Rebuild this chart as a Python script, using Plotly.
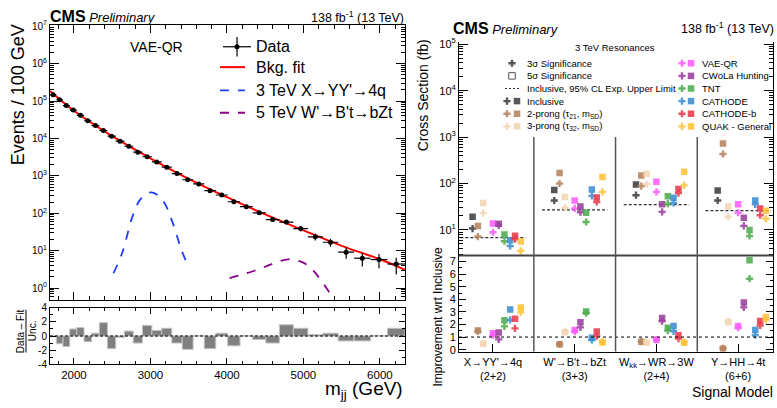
import plotly.graph_objects as go

W, H = 777, 408
FONT = "Liberation Sans"


def fx(p):
    return p / W


def fy(p):
    return 1 - p / H


# ---------------- Left panel data ----------------
bin_edges = [1687, 1770, 1856, 1945, 2037, 2132, 2231, 2332, 2438, 2546, 2659, 2775,
             2895, 3019, 3147, 3279, 3416, 3558, 3704, 3854, 4010, 4171, 4337, 4509,
             4686, 4869, 5058, 5253, 5455, 5663, 5877, 6099, 6328]
data_counts = [146000, 108000, 75500, 57300, 41500, 29700, 22000, 16300, 11500, 8450,
               6170, 4280, 3240, 2350, 1710, 1150, 787, 608, 401, 308,
               203, 150, 103, 68, 58, 39, 23.5, 16.8, 9.1, 6.3, 5.8, 4.4]
pulls = [0.0, -1.1, -1.5, 1.0, 1.2, -0.8, 0.4, 1.9, -1.8, -0.2, 0.7, -1.0, 1.5, 0.8,
         1.1, -1.0, -1.9, 0.03, -1.8, 0.4, -1.4, 0.03, -0.5, -1.0, 1.6, 1.1, 0.2, 0.4,
         -0.7, -0.7, 0.05, 1.1]
fit_mass = [1687, 2000, 2500, 3000, 3500, 4000, 4500, 5000, 5500, 6000, 6328]
fit_vals = [186000, 55000, 11500, 2950, 832, 269, 93, 35, 13.5, 5.9, 3.1]
sig_yy_mass = [2517, 2635, 2766, 2876, 3015, 3159, 3291, 3400, 3496]
sig_yy_vals = [2.5, 9.2, 82.6, 245, 363, 224, 55.6, 11.2, 3.8]
sig_bt_mass = [4034, 4165, 4339, 4500, 4650, 4800, 4950, 5050, 5150, 5250, 5350, 5430]
sig_bt_vals = [1.86, 2.19, 2.82, 3.72, 4.9, 5.89, 5.25, 4.17, 2.63, 1.41, 0.71, 0.38]

# ---------------- Right panel data ----------------
signal_models = ["X→YY'→4q<br>(2+2)", "W'→B't→bZt<br>(3+3)",
                 "W<sub>kk</sub>→WR→3W<br>(2+4)", "Y→HH→4t<br>(6+6)"]
method_names = ["Inclusive", "2-prong (τ<sub>21</sub>, m<sub>SD</sub>)",
                "3-prong (τ<sub>32</sub>, m<sub>SD</sub>)", "VAE-QR", "CWoLa Hunting",
                "TNT", "CATHODE", "CATHODE-b", "QUAK - General"]
inclusive_limit = [6.8, 27, 35, 26]

xs3_inclusive = [10.7, 43, 56, 43]
xs3_two_prong = [7.2, 100, 88, 432]
xs3_three_prong = [23, 30, 97, 19.2]
xs3_vae_qr = [8.9, 29, 66, 23.4]
xs3_cwola = [12.5, 24, 24.5, 12.2]
xs3_tnt = [5.7, 14.8, 36.7, 7.4]
xs3_cathode = [4.5, 54, 38, 35.5]
xs3_cathode_b = [6.3, 40, 62, 20.7]
xs3_quak = [3.55, 66, 91, 17.4]

xs5_inclusive = [19.2, 72, 95, 71]
xs5_two_prong = [12.2, 168, 148, 725]
xs5_three_prong = [38, 51, 162, 32]
xs5_vae_qr = [13.7, 43, 109, 35.5]
xs5_cwola = [13.5, 32, 35.5, 18.2]
xs5_tnt = [8.0, 23.4, 53, 9.9]
xs5_cathode = [6.0, 74, 49, 43]
xs5_cathode_b = [7.5, 50, 76, 29]
xs5_quak = [5.6, 138, 180, 26]

imp3_two_prong = [1.45, 0.43, 0.64, 0.1]
imp3_three_prong = [0.47, 1.43, 0.58, 2.24]
imp3_vae_qr = [1.15, 1.44, 0.8, 1.74]
imp3_cwola = [0.82, 1.77, 2.26, 3.36]
imp3_tnt = [1.85, 2.9, 1.51, 5.64]
imp3_cathode = [2.36, 0.77, 1.46, 1.15]
imp3_cathode_b = [1.69, 1.08, 0.88, 1.92]
imp3_quak = [2.97, 0.64, 0.6, 2.36]

imp5_two_prong = [1.52, 0.42, 0.62, 0.08]
imp5_three_prong = [0.46, 1.38, 0.54, 2.18]
imp5_vae_qr = [1.31, 1.56, 0.79, 1.87]
imp5_cwola = [1.36, 2.18, 2.51, 3.74]
imp5_tnt = [2.33, 3.03, 1.74, 7.1]
imp5_cathode = [3.2, 0.95, 1.87, 1.56]
imp5_cathode_b = [2.46, 1.44, 1.15, 2.28]
imp5_quak = [3.36, 0.56, 0.54, 2.59]

# styles / layout positions (not data)
method_colors = ["#3f3f3f", "#b5835d", "#f2d5b3", "#ff5cff", "#9b409d", "#4fac4f",
                 "#3d8ed0", "#e83b4f", "#ffc23a"]
method_offsets = [-0.25, -0.185, -0.12, 0.0, 0.07, 0.14, 0.21, 0.27, 0.34]

xs3_all = [xs3_inclusive, xs3_two_prong, xs3_three_prong, xs3_vae_qr, xs3_cwola,
           xs3_tnt, xs3_cathode, xs3_cathode_b, xs3_quak]
xs5_all = [xs5_inclusive, xs5_two_prong, xs5_three_prong, xs5_vae_qr, xs5_cwola,
           xs5_tnt, xs5_cathode, xs5_cathode_b, xs5_quak]
imp3_all = [None, imp3_two_prong, imp3_three_prong, imp3_vae_qr, imp3_cwola,
            imp3_tnt, imp3_cathode, imp3_cathode_b, imp3_quak]
imp5_all = [None, imp5_two_prong, imp5_three_prong, imp5_vae_qr, imp5_cwola,
            imp5_tnt, imp5_cathode, imp5_cathode_b, imp5_quak]

MS_SQ = 6.5
MS_CR = 6
SHORT_DASH = "3px,2px"

fig = go.Figure()

# ---------------- Left panel traces ----------------
centers = [(a + b) / 2 for a, b in zip(bin_edges[:-1], bin_edges[1:])]
halfw = [(b - a) / 2 for a, b in zip(bin_edges[:-1], bin_edges[1:])]
errs = [v ** 0.5 for v in data_counts]

fig.add_trace(go.Scatter(x=fit_mass, y=fit_vals, mode="lines",
                         line=dict(color="#ff0000", width=2, shape="spline"),
                         xaxis="x", yaxis="y"))
fig.add_trace(go.Scatter(x=sig_yy_mass, y=sig_yy_vals, mode="lines",
                         line=dict(color="#1f3cff", width=1.8, dash="dash", shape="spline"),
                         xaxis="x", yaxis="y"))
fig.add_trace(go.Scatter(x=sig_bt_mass, y=sig_bt_vals, mode="lines",
                         line=dict(color="#8b008b", width=1.8, dash="dash", shape="spline"),
                         xaxis="x", yaxis="y"))
fig.add_trace(go.Scatter(x=centers, y=data_counts, mode="markers",
                         marker=dict(color="black", size=5),
                         error_x=dict(type="data", array=halfw, color="black", thickness=1.2, width=0),
                         error_y=dict(type="data", array=errs, color="black", thickness=1.2, width=0),
                         xaxis="x", yaxis="y"))
fig.add_trace(go.Bar(x=centers, y=pulls, width=[2 * h for h in halfw],
                     marker=dict(color="#808080", line=dict(color="#c4c4c4", width=1)),
                     xaxis="x2", yaxis="y2"))

# ---------------- Right panel traces ----------------
lx, ly = [], []
for i, lim in enumerate(inclusive_limit):
    lx += [i - 0.4, i + 0.4, None]
    ly += [lim, lim, None]
fig.add_trace(go.Scatter(x=lx, y=ly, mode="lines",
                         line=dict(color="#333333", width=1.3, dash=SHORT_DASH),
                         xaxis="x3", yaxis="y3"))

for k in range(len(method_names)):
    xs = [i + method_offsets[k] for i in range(len(signal_models))]
    col = method_colors[k]
    fig.add_trace(go.Scatter(x=xs, y=xs5_all[k], mode="markers",
                             marker=dict(symbol="square", size=MS_SQ, color=col, opacity=0.88),
                             xaxis="x3", yaxis="y3"))
    fig.add_trace(go.Scatter(x=xs, y=xs3_all[k], mode="markers",
                             marker=dict(symbol="cross", size=MS_CR, color=col, opacity=0.88),
                             xaxis="x3", yaxis="y3"))
    if imp5_all[k] is not None:
        fig.add_trace(go.Scatter(x=xs, y=imp5_all[k], mode="markers",
                                 marker=dict(symbol="square", size=MS_SQ, color=col, opacity=0.88),
                                 xaxis="x4", yaxis="y4"))
        fig.add_trace(go.Scatter(x=xs, y=imp3_all[k], mode="markers",
                                 marker=dict(symbol="cross", size=MS_CR, color=col, opacity=0.88),
                                 xaxis="x4", yaxis="y4"))

# ---------------- Legend glyphs (overlay pixel axis) ----------------
ov = dict(xaxis="x5", yaxis="y5")
fig.add_trace(go.Scatter(x=[237], y=[42], mode="markers", marker=dict(color="black", size=5),
                         error_x=dict(type="constant", value=14, color="black", thickness=1.2, width=0),
                         error_y=dict(type="constant", value=10, color="black", thickness=1.2, width=0),
                         **ov))
fig.add_trace(go.Scatter(x=[220, 245], y=[63, 63], mode="lines",
                         line=dict(color="#ff0000", width=2), **ov))
fig.add_trace(go.Scatter(x=[220, 245], y=[87, 87], mode="lines",
                         line=dict(color="#1f3cff", width=1.8, dash="dash"), **ov))
fig.add_trace(go.Scatter(x=[220, 245], y=[110, 110], mode="lines",
                         line=dict(color="#8b008b", width=1.8, dash="dash"), **ov))

rows_y = [59, 72, 85, 98, 111, 124]
fig.add_trace(go.Scatter(x=[512], y=[rows_y[0]], mode="markers",
                         marker=dict(symbol="cross", size=MS_CR, color="#555555"), **ov))
fig.add_trace(go.Scatter(x=[512], y=[rows_y[1]], mode="markers",
                         marker=dict(symbol="square-open", size=MS_SQ, color="#555555",
                                     line=dict(width=1)), **ov))
fig.add_trace(go.Scatter(x=[505, 520], y=[rows_y[2], rows_y[2]], mode="lines",
                         line=dict(color="#333333", width=1.2, dash="2px,2px"), **ov))
for k in range(len(method_names)):
    if k < 3:
        cx, sx, yy = 507, 517, rows_y[3 + k]
    else:
        cx, sx, yy = 682, 691, rows_y[k - 3]
    fig.add_trace(go.Scatter(x=[cx], y=[yy], mode="markers",
                             marker=dict(symbol="cross", size=MS_CR, color=method_colors[k], opacity=0.88), **ov))
    fig.add_trace(go.Scatter(x=[sx], y=[yy], mode="markers",
                             marker=dict(symbol="square", size=MS_SQ, color=method_colors[k], opacity=0.88), **ov))

# ---------------- Annotations ----------------
ann = []


def text(t, x, y, size, xanchor="left", yanchor="middle", angle=0, color="black"):
    ann.append(dict(text=t, x=fx(x), y=fy(y), xref="paper", yref="paper", showarrow=False,
                    xanchor=xanchor, yanchor=yanchor, textangle=angle,
                    font=dict(family=FONT, size=size, color=color)))


cms = "<span style='font-size:16px'><b>CMS</b></span> <span style='font-size:13px'><i>Preliminary</i></span>"
text(cms, 48, 11, 13)
text("138 fb<sup>-1</sup> (13 TeV)", 406, 11, 12.5, xanchor="right")
text("VAE-QR", 156, 42, 14, xanchor="center")
for t, y in zip(["Data", "Bkg. fit", "3 TeV X→YY'→4q", "5 TeV W'→B't→bZt"], [42, 63, 87, 110]):
    text(t, 254, y, 16)
text("Events / 100 GeV", 18, 92, 18, xanchor="center", yanchor="middle", angle=-90)
text("Data – Fit", 20, 335, 10, xanchor="center", angle=-90)
text("Unc.", 32, 335, 10, xanchor="center", angle=-90)
text("m<sub>jj</sub> (GeV)", 405, 396, 19, xanchor="right")

text(cms, 451, 23, 13)
text("138 fb<sup>-1</sup> (13 TeV)", 776, 23, 12.5, xanchor="right")
text("3 TeV Resonances", 615, 43, 9.5, xanchor="center")
left_legend = ["3σ Significance", "5σ Significance", "Inclusive, 95% CL Exp. Upper Limit",
               method_names[0], method_names[1], method_names[2]]
for t, y in zip(left_legend, rows_y):
    text(t, 525, y, 9.5)
for t, y in zip(method_names[3:], rows_y):
    text(t, 700, y, 9.5)
text("Cross Section (fb)", 423, 92, 14, xanchor="center", angle=-90)
text("Improvement wrt Inclusive", 438, 320, 12, xanchor="center", angle=-90)
text("Signal Model", 775, 398, 14, xanchor="right")

# ---------------- Shapes ----------------
shapes = [
    dict(type="line", xref="x2", yref="y2", x0=bin_edges[0], x1=bin_edges[-1], y0=0, y1=0,
         line=dict(color="black", width=1, dash=SHORT_DASH)),
    dict(type="line", xref="paper", yref="paper", x0=fx(26), x1=fx(26), y0=fy(357), y1=fy(313),
         line=dict(color="black", width=1)),
    dict(type="line", xref="paper", yref="paper", x0=fx(459), x1=fx(773), y0=fy(257), y1=fy(257),
         line=dict(color="#444444", width=2)),
    dict(type="line", xref="x4", yref="y4", x0=-0.416, x1=3.427, y0=1, y1=1,
         line=dict(color="black", width=1, dash="dot")),
]
for sep in [0.5, 1.5, 2.5]:
    shapes.append(dict(type="line", xref="x3", yref="paper", x0=sep, x1=sep,
                       y0=fy(356), y1=fy(135), line=dict(color="#555555", width=1.5)))

# ---------------- Axes ----------------
tf = dict(family=FONT, size=10, color="black")
base = dict(showgrid=False, zeroline=False, showline=True, linecolor="black", linewidth=1,
            ticks="inside", tickcolor="black", mirror="allticks", tickfont=tf)

main_minor = [k * 10 ** d for d in range(-1, 7) for k in range(2, 10)]
right_minor = [k * 10 ** d for d in range(0, 5) for k in range(2, 10)]
mass_minor = [m for m in range(1800, 6400, 200) if m % 1000 != 0]

layout_axes = dict(
    xaxis=dict(base, domain=[fx(50), fx(405)], range=[bin_edges[0], bin_edges[-1]], anchor="y",
               tickvals=[2000, 3000, 4000, 5000, 6000], showticklabels=False, ticklen=8,
               minor=dict(tickvals=mass_minor, ticklen=4, ticks="inside", tickcolor="black")),
    yaxis=dict(base, type="log", domain=[fy(303), fy(20)], range=[-0.32, 7.02], anchor="x",
               tickvals=[10 ** p for p in range(0, 8)],
               ticktext=["10<sup>%d</sup>" % p for p in range(0, 8)], ticklen=9,
               minor=dict(tickvals=main_minor, ticklen=4, ticks="inside", tickcolor="black")),
    xaxis2=dict(base, domain=[fx(50), fx(405)], range=[bin_edges[0], bin_edges[-1]], anchor="y2",
                tickvals=[2000, 3000, 4000, 5000, 6000], ticktext=["2000", "3000", "4000", "5000", "6000"],
                ticklen=6, tickfont=dict(family=FONT, size=11.5, color="black"),
                minor=dict(tickvals=mass_minor, ticklen=3, ticks="inside", tickcolor="black")),
    yaxis2=dict(base, domain=[fy(369), fy(311)], range=[-4, 4], anchor="x2",
                tickvals=[-4, -2, 0, 2, 4], ticktext=["-4", "-2", "0", "2", "4"], ticklen=6,
                minor=dict(tickvals=[-3, -1, 1, 3], ticklen=3, ticks="inside", tickcolor="black")),
    xaxis3=dict(domain=[fx(459), fx(773)], range=[-0.416, 3.427], anchor="y3", showgrid=False,
                zeroline=False, showline=False, showticklabels=False, ticks=""),
    yaxis3=dict(base, type="log", domain=[fy(257), fy(37)], range=[0.45, 5.05], anchor="x3",
                tickvals=[10 ** p for p in range(1, 6)],
                ticktext=["10<sup>%d</sup>" % p for p in range(1, 6)], ticklen=9,
                tickfont=dict(family=FONT, size=11, color="black"),
                minor=dict(tickvals=right_minor, ticklen=4, ticks="inside", tickcolor="black")),
    xaxis4=dict(showgrid=False, zeroline=False, showline=True, linecolor="black", linewidth=1,
                domain=[fx(459), fx(773)], range=[-0.416, 3.427], anchor="y4",
                tickvals=[0, 1, 2, 3], ticktext=signal_models, ticks="inside", ticklen=8,
                tickcolor="black", tickfont=dict(family=FONT, size=11, color="black")),
    yaxis4=dict(base, domain=[fy(356), fy(257)], range=[-0.15, 7.49], anchor="x4",
                tickvals=list(range(0, 8)), ticklen=7,
                tickfont=dict(family=FONT, size=11, color="black"),
                minor=dict(tickvals=[v + 0.5 for v in range(0, 8)], ticklen=3, ticks="inside",
                           tickcolor="black")),
    xaxis5=dict(domain=[0, 1], range=[0, W], anchor="y5", visible=False, fixedrange=True),
    yaxis5=dict(domain=[0, 1], range=[H, 0], anchor="x5", visible=False, fixedrange=True),
)

fig.update_layout(
    width=W, height=H, autosize=False,
    margin=dict(l=0, r=0, t=0, b=0),
    paper_bgcolor="white", plot_bgcolor="rgba(0,0,0,0)",
    showlegend=False, hovermode=False,
    font=dict(family=FONT, color="black"),
    annotations=ann, shapes=shapes,
    **layout_axes,
)

fig.write_html("out.html",
               config={"displayModeBar": False, "staticPlot": True},
               post_script="document.body.style.margin='0';document.body.style.padding='0';"
                           "document.body.style.overflow='hidden';"
                           "document.documentElement.style.overflow='hidden';")
